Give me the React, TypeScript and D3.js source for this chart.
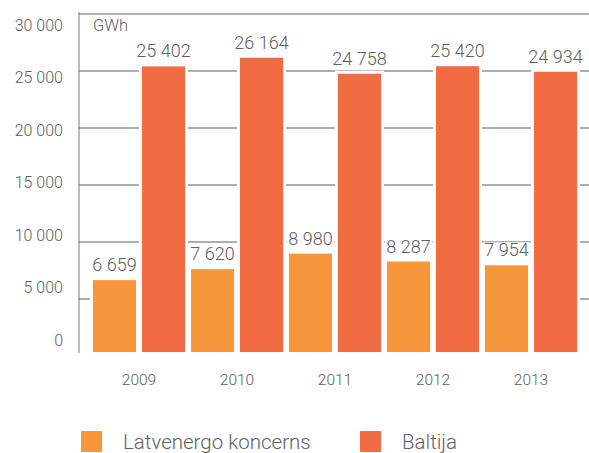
import React from "react";
import * as d3 from "d3";

const years = ["2009", "2010", "2011", "2012", "2013"];
const seriesNames = ["Latvenergo koncerns", "Baltija"];
const latvenergo = [6659, 7620, 8980, 8287, 7954];
const baltija = [25402, 26164, 24758, 25420, 24934];
const yTicks = [0, 5000, 10000, 15000, 20000, 25000, 30000];
const colors = ["#F7963A", "#F26B42"];

const fmt = (v: number) => {
  const s = String(v);
  return s.replace(/\B(?=(\d{3})+(?!\d))/g, " ");
};

export default function App() {
  const W = 589;
  const H = 453;
  const font = "Roboto, 'Helvetica Neue', Arial, sans-serif";
  const textColor = "#606060";

  const y = d3.scaleLinear().domain([0, 30000]).range([356, 14]);
  const yLab = d3.scaleLinear().domain([0, 30000]).range([340, 25]);
  const x0 = d3.scaleBand<string>().domain(years).range([90, 580]).paddingInner(0).paddingOuter(0);
  const x1 = d3
    .scaleBand<string>()
    .domain(seriesNames)
    .range([0, x0.bandwidth()])
    .paddingInner(0.12)
    .paddingOuter(0.06);

  const data = [latvenergo, baltija];
  const bw = x1.bandwidth();
  const valueFont = 18;

  return (
    <svg width={W} height={H} style={{ display: "block", position: "absolute", left: 0, top: 0 }}>
      <defs>
        <clipPath id="plotclip">
          <rect x={0} y={0} width={W} height={352} />
        </clipPath>
      </defs>
      <rect x={0} y={0} width={W} height={H} fill="#fff" />
      {yTicks
        .filter((t) => t > 0)
        .map((t) => (
          <line key={t} x1={79} x2={W} y1={y(t)} y2={y(t)} stroke="#929292" strokeWidth={1.4} />
        ))}
      <g clipPath="url(#plotclip)">
        {years.map((yr, i) =>
          seriesNames.map((s, j) => {
            const v = data[j][i];
            const bx = (x0(yr) as number) + (x1(s) as number);
            const by = y(v);
            return (
              <g key={yr + s}>
                <rect x={bx - 3} y={by - 3} width={bw + 6} height={y(0) - by + 3} fill="#fff" />
                <rect x={bx} y={by} width={bw} height={y(0) - by} fill={colors[j]} />
              </g>
            );
          })
        )}
      </g>
      {years.map((yr, i) =>
        seriesNames.map((s, j) => {
          const v = data[j][i];
          const cx = (x0(yr) as number) + (x1(s) as number) + bw / 2;
          const base = y(v) - 9;
          const label = fmt(v);
          const tw = Math.min(label.length * valueFont * 0.53, bw + 6);
          return (
            <g key={"l" + yr + s}>
              <rect x={cx - tw / 2} y={base - valueFont * 0.78} width={tw} height={valueFont * 0.85} fill="#fff" />
              <text
                x={cx}
                y={base}
                textAnchor="middle"
                fontFamily={font}
                fontWeight={300}
                fontSize={valueFont}
                fill={textColor}
              >
                {label}
              </text>
            </g>
          );
        })
      )}
      <line x1={79} x2={79} y1={12} y2={353} stroke="#777" strokeWidth={1} />
      {yTicks.map((t) => (
        <text
          key={"y" + t}
          x={63}
          y={yLab(t)}
          dy="0.35em"
          textAnchor="end"
          fontFamily={font}
          fontWeight={300}
          fontSize={16}
          fill={textColor}
        >
          {fmt(t)}
        </text>
      ))}
      <text x={93} y={25} dy="0.35em" fontFamily={font} fontWeight={300} fontSize={16.5} fill={textColor}>
        GWh
      </text>
      {years.map((yr) => (
        <text
          key={"x" + yr}
          x={(x0(yr) as number) + x0.bandwidth() / 2}
          y={385}
          textAnchor="middle"
          fontFamily={font}
          fontWeight={300}
          fontSize={15.5}
          fill={textColor}
        >
          {yr}
        </text>
      ))}
      {seriesNames.map((s, j) => {
        const lx = j === 0 ? 81 : 360;
        return (
          <g key={"lg" + s}>
            <rect x={lx} y={431} width={21} height={21} fill={colors[j]} />
            <text x={lx + 42} y={449} fontFamily={font} fontWeight={300} fontSize={20.5} fill={textColor}>
              {s}
            </text>
          </g>
        );
      })}
    </svg>
  );
}
